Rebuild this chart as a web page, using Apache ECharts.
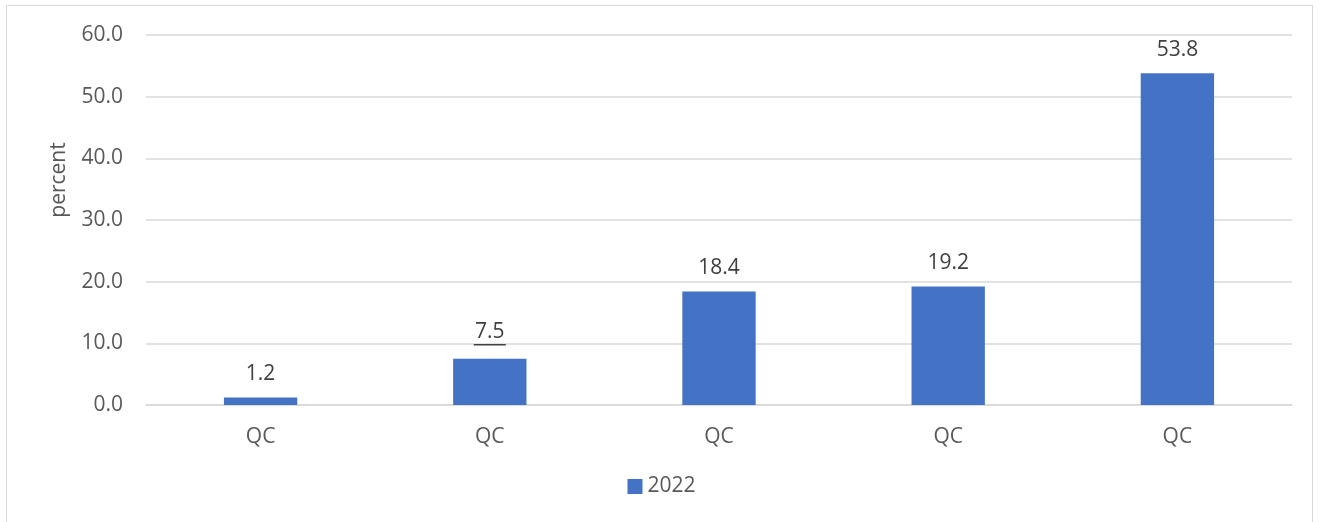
<!DOCTYPE html>
<html>
<head>
<meta charset="utf-8">
<script src="https://cdn.jsdelivr.net/npm/echarts@6/dist/echarts.min.js"></script>
<style>
  html, body { margin: 0; padding: 0; background: #fff; }
  #chart { position: absolute; left: 0; top: 0; width: 1323px; height: 522px; }
  #frame { position: absolute; left: 6px; top: 5px; width: 1305px; height: 540px; border: 1.5px solid #d9d9d9; pointer-events: none; }
</style>
</head>
<body>
<div id="chart"></div>
<div id="frame"></div>
<script>
const categories = ['QC', 'QC', 'QC', 'QC', 'QC'];
const values2022 = [1.2, 7.5, 18.4, 19.2, 53.8];
const seriesName = '2022';
const underlinedIndex = 1;

const FONT = '"Open Sans", "Noto Sans", sans-serif';
const TXT = '#595959';
const FS = 21;

const chart = echarts.init(document.getElementById('chart'));
chart.setOption({
  animation: false,
  textStyle: { fontFamily: FONT },
  grid: { left: 146, right: 31, top: 35, bottom: 117 },
  legend: {
    data: [seriesName],
    bottom: 20,
    left: 'center',
    icon: 'rect',
    itemWidth: 15,
    itemHeight: 15,
    itemGap: 6,
    textStyle: { color: TXT, fontSize: FS, fontFamily: FONT }
  },
  xAxis: {
    type: 'category',
    data: categories,
    axisLine: { lineStyle: { color: '#d9d9d9', width: 1.5 } },
    axisTick: { show: false },
    axisLabel: { color: TXT, fontSize: FS, margin: 22, fontFamily: FONT }
  },
  yAxis: {
    type: 'value',
    min: 0,
    max: 60,
    interval: 10,
    name: 'percent',
    nameLocation: 'middle',
    nameGap: 76,
    nameRotate: 90,
    nameTextStyle: { color: TXT, fontSize: FS, fontFamily: FONT, padding: [0, 0, 0, 80] },
    axisLine: { show: false },
    axisTick: { show: false },
    splitLine: { lineStyle: { color: '#d9d9d9', width: 1.5 } },
    axisLabel: {
      color: TXT, fontSize: FS, margin: 23, fontFamily: FONT,
      formatter: v => v.toFixed(1)
    }
  },
  series: [{
    name: seriesName,
    type: 'bar',
    data: values2022,
    barWidth: '32%',
    itemStyle: { color: '#4472C4' },
    label: {
      show: true,
      position: 'top',
      distance: 13,
      color: '#404040',
      fontSize: FS,
      fontFamily: FONT,
      formatter: p => p.dataIndex === underlinedIndex
        ? '{v|' + p.value.toFixed(1) + '}\n{u|}'
        : p.value.toFixed(1),
      rich: {
        v: { color: '#404040', fontSize: FS, fontFamily: FONT, lineHeight: 23 },
        u: { width: 32, height: 1.5, backgroundColor: '#404040', lineHeight: 2 }
      }
    }
  }]
});
</script>
</body>
</html>
